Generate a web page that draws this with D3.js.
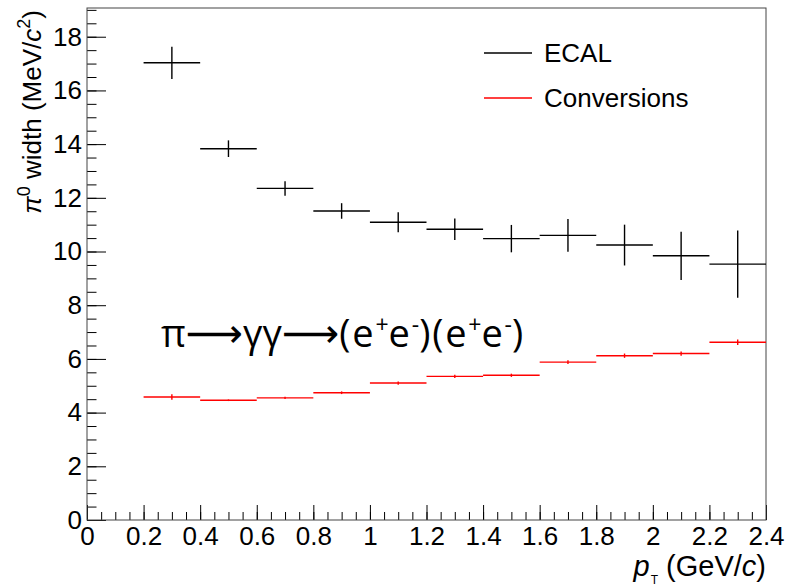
<!DOCTYPE html>
<html>
<head>
<meta charset="utf-8">
<script src="https://cdn.jsdelivr.net/npm/d3@7"></script>
<style>
  body { margin: 0; background: #fff; }
</style>
</head>
<body>
<div id="chart"></div>
<script>
// bins of pT (GeV/c), 0.2 wide
var binLo = [0.2, 0.4, 0.6, 0.8, 1.0, 1.2, 1.4, 1.6, 1.8, 2.0, 2.2];
var binHi = [0.4, 0.6, 0.8, 1.0, 1.2, 1.4, 1.6, 1.8, 2.0, 2.2, 2.4];

var ecalVal = [17.03, 13.83, 12.35, 11.51, 11.09, 10.83, 10.48, 10.60, 10.24, 9.84, 9.53];
var ecalErr = [0.60, 0.31, 0.27, 0.29, 0.37, 0.40, 0.51, 0.61, 0.76, 0.90, 1.25];

var convVal = [4.58, 4.46, 4.55, 4.74, 5.10, 5.35, 5.39, 5.88, 6.12, 6.20, 6.62];
var convErr = [0.10, 0.03, 0.04, 0.05, 0.06, 0.06, 0.06, 0.07, 0.08, 0.08, 0.10];

var xTicks = [0, 0.2, 0.4, 0.6, 0.8, 1, 1.2, 1.4, 1.6, 1.8, 2, 2.2, 2.4];
var yTicks = [0, 2, 4, 6, 8, 10, 12, 14, 16, 18];

var series = [
  { name: "ECAL", color: "#000", val: ecalVal, err: ecalErr },
  { name: "Conversions", color: "#ff0000", val: convVal, err: convErr }
];

var width = 788, height = 585;
var pLeft = 87, pRight = 766, pTop = 8, pBottom = 520;
var font = "'Liberation Sans', Arial, sans-serif";
var fs = 26;

var svg = d3.select("#chart").append("svg")
  .attr("width", width)
  .attr("height", height)
  .style("font-family", font);

var x = d3.scaleLinear().domain([0, 2.4]).range([pLeft, pRight]);
var y = d3.scaleLinear().domain([0, 19.07]).range([pBottom, pTop]);

// minor ticks
var xMinor = d3.range(0, 49).map(function (i) { return i * 0.05; });
var yMinor = d3.range(0, 39).map(function (i) { return i * 0.5; });

svg.append("g")
  .attr("transform", "translate(0," + pBottom + ")")
  .call(d3.axisBottom(x).tickValues(xMinor).tickSize(-8).tickFormat(""))
  .call(function (g) { g.select(".domain").remove(); });

svg.append("g")
  .attr("transform", "translate(" + pLeft + ",0)")
  .call(d3.axisLeft(y).tickValues(yMinor).tickSize(-9.5).tickFormat(""))
  .call(function (g) { g.select(".domain").remove(); });

var xAxis = svg.append("g")
  .attr("transform", "translate(0," + pBottom + ")")
  .call(d3.axisBottom(x).tickValues(xTicks).tickSize(-15).tickPadding(7)
    .tickFormat(function (d) { return String(+d.toFixed(1)); }));
xAxis.select(".domain").remove();
xAxis.attr("font-size", fs).attr("font-family", font);
xAxis.selectAll("text").attr("fill", "#000");

var yAxis = svg.append("g")
  .attr("transform", "translate(" + pLeft + ",0)")
  .call(d3.axisLeft(y).tickValues(yTicks).tickSize(-19).tickPadding(5));
yAxis.select(".domain").remove();
yAxis.attr("font-size", fs).attr("font-family", font);
yAxis.selectAll("text").attr("fill", "#000");

svg.selectAll(".tick line").attr("stroke", "#000");

// frame
svg.append("rect")
  .attr("x", pLeft).attr("y", pTop)
  .attr("width", pRight - pLeft).attr("height", pBottom - pTop)
  .attr("fill", "none").attr("stroke", "#444").attr("stroke-width", 1);

// error-bar crosses
series.forEach(function (s) {
  var g = svg.append("g").attr("stroke", s.color).attr("stroke-width", 1.4);
  g.selectAll("line.h").data(s.val).enter().append("line")
    .attr("class", "h")
    .attr("x1", function (d, i) { return x(binLo[i]); })
    .attr("x2", function (d, i) { return x(binHi[i]); })
    .attr("y1", function (d) { return y(d); })
    .attr("y2", function (d) { return y(d); });
  g.selectAll("line.v").data(s.val).enter().append("line")
    .attr("class", "v")
    .attr("x1", function (d, i) { return x((binLo[i] + binHi[i]) / 2); })
    .attr("x2", function (d, i) { return x((binLo[i] + binHi[i]) / 2); })
    .attr("y1", function (d, i) { return y(d - s.err[i]); })
    .attr("y2", function (d, i) { return y(d + s.err[i]); });
});

// legend
var legend = svg.append("g");
series.forEach(function (s, i) {
  var ly = 53 + i * 45;
  legend.append("line")
    .attr("x1", 484).attr("x2", 532).attr("y1", ly).attr("y2", ly)
    .attr("stroke", s.color).attr("stroke-width", 1.4);
  legend.append("text")
    .attr("x", 544).attr("y", ly + 9)
    .attr("font-size", fs)
    .text(s.name);
});

// axis titles
var xt = svg.append("text")
  .attr("x", pRight).attr("y", 575.5)
  .attr("text-anchor", "end")
  .attr("font-size", 29);
xt.append("tspan").attr("font-style", "italic").text("p");
xt.append("tspan").attr("font-size", 12).attr("dy", 8).attr("dx", 1).text("T");
xt.append("tspan").attr("dy", -8).text(" (GeV/");
xt.append("tspan").attr("font-style", "italic").text("c");
xt.append("tspan").text(")");

var yt = svg.append("text")
  .attr("transform", "translate(41," + 10 + ") rotate(-90)")
  .attr("text-anchor", "end")
  .attr("font-size", fs);
yt.append("tspan").attr("font-style", "italic").text("π");
yt.append("tspan").attr("font-size", 18).attr("dy", -11).text("0");
yt.append("tspan").attr("dy", 11).text(" width (MeV/");
yt.append("tspan").attr("font-style", "italic").text("c");
yt.append("tspan").attr("font-size", 18).attr("dy", -11).text("2");
yt.append("tspan").attr("dy", 11).text(")");

// decay-chain annotation
var ann = svg.append("text")
  .attr("x", 161).attr("y", 347)
  .style("font-family", "'Open Sans', 'Noto Sans', sans-serif")
  .attr("font-size", 38)
  .attr("fill", "#000");
function arrow() {
  ann.append("tspan").style("font-family", "'DejaVu Sans', sans-serif")
    .attr("font-size", 40).text("⟶");
}
function sup(t) {
  ann.append("tspan").attr("font-size", 23).attr("dy", -14).text(t);
}
ann.append("tspan").text("π");
arrow();
ann.append("tspan").text("γγ");
arrow();
ann.append("tspan").attr("letter-spacing", 1.8).text("(e");
sup("+");
ann.append("tspan").attr("dy", 14).attr("letter-spacing", 1.8).text("e");
sup("-");
ann.append("tspan").attr("dy", 14).attr("letter-spacing", 1.8).text(")(e");
sup("+");
ann.append("tspan").attr("dy", 14).attr("letter-spacing", 1.8).text("e");
sup("-");
ann.append("tspan").attr("dy", 14).text(")");
</script>
</body>
</html>
